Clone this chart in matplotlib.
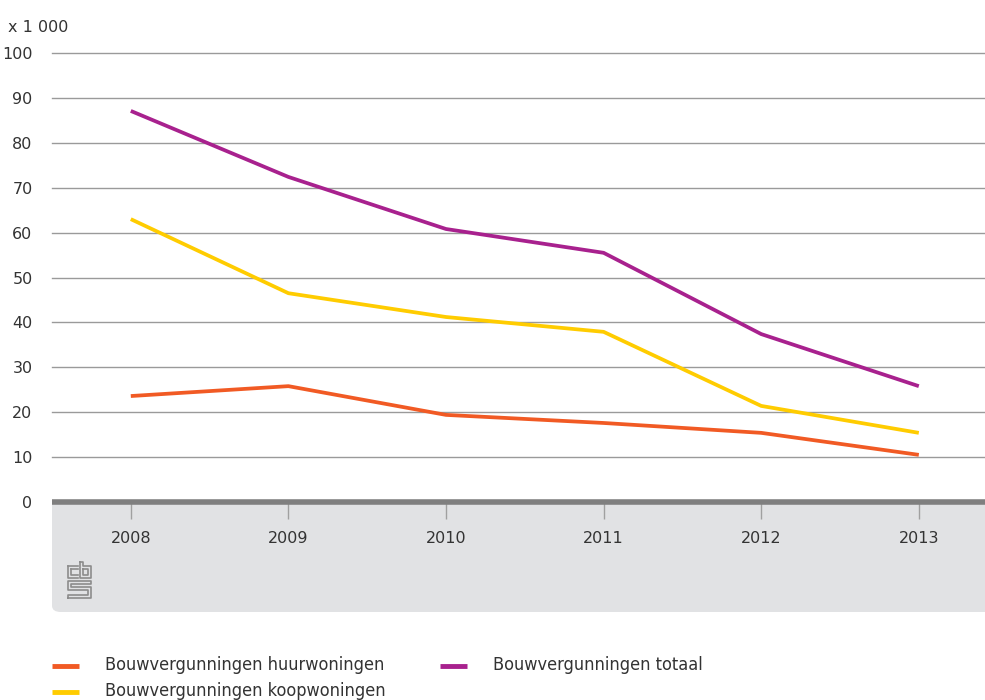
import matplotlib
matplotlib.use("Agg")
import matplotlib.pyplot as plt
from matplotlib.patches import FancyBboxPatch, Rectangle
from matplotlib.lines import Line2D

W, H = 985, 700

years = [2008, 2009, 2010, 2011, 2012, 2013]
huur = [23.6, 25.8, 19.4, 17.6, 15.4, 10.5]
totaal = [87.1, 72.4, 60.8, 55.5, 37.4, 25.8]
koop = [63.0, 46.5, 41.2, 37.9, 21.4, 15.4]
labels = ["Bouwvergunningen huurwoningen", "Bouwvergunningen totaal",
          "Bouwvergunningen koopwoningen"]
yticks = [0, 10, 20, 30, 40, 50, 60, 70, 80, 90, 100]

ORANGE, PURPLE, YELLOW = "#f15a24", "#a8218e", "#ffcc00"
GRID, PANEL, TXT = "#9a9a9a", "#e1e2e4", "#333333"


def fx(px):
    return px / W


def fy(py):
    return 1 - py / H


fig = plt.figure(figsize=(W / 100, H / 100), dpi=100)

# grey panel under the axis (flat top, rounded bottom-left corner)
fig.patches.append(Rectangle((fx(52), fy(590)), fx(990) - fx(52), fy(502) - fy(590),
                             transform=fig.transFigure, fc=PANEL, ec="none", zorder=0))
fig.patches.append(FancyBboxPatch((fx(52), fy(612)), fx(1010) - fx(52), fy(560) - fy(612),
                                  boxstyle="round,pad=0,rounding_size=0.009",
                                  transform=fig.transFigure, fc=PANEL, ec="none", zorder=0))

ax = fig.add_axes([fx(52), fy(502), fx(985) - fx(52), fy(53) - fy(502)])
ax.set_zorder(2)
ax.set_facecolor("none")
ax.set_xlim(2007.5, 2013.42)
ax.set_ylim(0, 100)
for s in ax.spines.values():
    s.set_visible(False)

for v in yticks[1:]:
    ax.axhline(v, color=GRID, lw=1.0, zorder=1, clip_on=False)
ax.axhline(0, color="#7f7f7f", lw=4, zorder=4, clip_on=False, solid_capstyle="butt")

ax.plot(years, huur, color=ORANGE, lw=2.7, zorder=3, solid_capstyle="butt")
ax.plot(years, totaal, color=PURPLE, lw=2.7, zorder=3, solid_capstyle="butt")
ax.plot(years, koop, color=YELLOW, lw=2.7, zorder=3, solid_capstyle="butt")

ax.set_yticks(yticks)
ax.set_yticklabels([str(v) for v in yticks], fontsize=11.5, color=TXT)
ax.tick_params(axis="y", length=0, pad=14)
ax.set_xticks(years)
ax.set_xticklabels([str(y) for y in years], fontsize=11.5, color=TXT)
ax.tick_params(axis="x", length=12, width=1.0, color="#a0a0a0", pad=9, direction="out")

fig.text(fx(8), fy(27), "x 1 000", fontsize=11.5, color=TXT, va="center")

# cbs logo (simplified)
lc = "#8c8c8c"
logo = [
    [(68, 566), (68, 578), (78, 578)], [(68, 566), (78, 566)],
    [(71, 569), (71, 575), (78, 575)], [(71, 569), (78, 569)],
    [(80, 562), (80, 578), (91, 578), (91, 566), (83, 566), (83, 562), (80, 562)],
    [(83, 569), (88, 569), (88, 575), (83, 575), (83, 569)],
    [(68, 598), (91, 598), (91, 587), (71, 587), (71, 584), (91, 584), (91, 581),
     (68, 581), (68, 590), (88, 590), (88, 595), (68, 595), (68, 598)],
]
for seg in logo:
    xs = [fx(p[0]) for p in seg]
    ys = [fy(p[1]) for p in seg]
    fig.add_artist(Line2D(xs, ys, color=lc, lw=1.2, transform=fig.transFigure))

# legend
entries = [(52, 666, ORANGE, labels[0]), (440, 666, PURPLE, labels[1]),
           (52, 692, YELLOW, labels[2])]
for x0, y0, c, lab in entries:
    fig.add_artist(Line2D([fx(x0), fx(x0 + 27)], [fy(y0), fy(y0)], color=c, lw=3.5,
                          transform=fig.transFigure, solid_capstyle="butt"))
    fig.text(fx(x0 + 53), fy(y0 - 1), lab, fontsize=13, color=TXT, va="center",
             family="DejaVu Sans", stretch="condensed")

fig.savefig("out.png", dpi=100)
